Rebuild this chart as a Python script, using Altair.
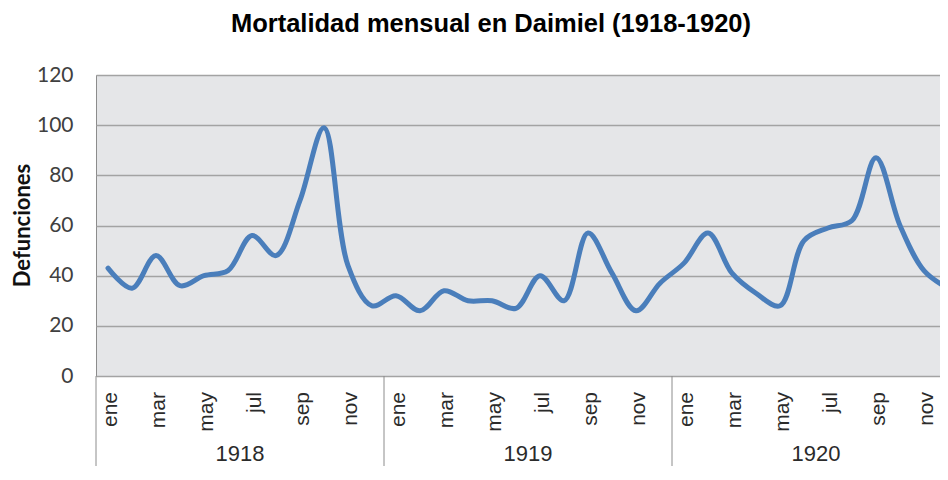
import altair as alt
import pandas as pd

# ---- data ----
years = ["1918", "1919", "1920"]
month_names = ["ene", "feb", "mar", "abr", "may", "jun", "jul", "ago", "sep", "oct", "nov", "dic"]
shown_months = ["ene", "mar", "may", "jul", "sep", "nov"]
deaths_1918 = [43, 35, 48, 36, 40, 42, 56, 48, 70, 99, 44, 28]
deaths_1919 = [32, 26, 34, 30, 30, 27, 40, 30, 57, 41, 26, 37]
deaths_1920 = [45, 57, 41, 33, 28, 54, 59, 62, 87, 60, 42, 35]
y_ticks = [0, 20, 40, 60, 80, 100, 120]
title_text = "Mortalidad mensual en Daimiel (1918-1920)"
y_title = "Defunciones"

rows = []
for yi, (yr, vals) in enumerate(zip(years, [deaths_1918, deaths_1919, deaths_1920])):
    for mi, v in enumerate(vals):
        rows.append({"pos": yi * 12 + mi + 0.5, "lab_pos": yi * 12 + mi + 0.62,
                     "year": yr, "month": month_names[mi], "deaths": v})
df = pd.DataFrame(rows)
labels_df = df[df["month"].isin(shown_months)]
year_df = pd.DataFrame({"pos": [6, 18, 30], "year": years})
sep_df = pd.DataFrame({"pos": [0, 12, 24]})
title_df = pd.DataFrame({"t": [title_text]})

W, H, TOP, BOTTOM, LEFT = 844, 301, 67, 90, 88
MONTH_PX = 24
GRID = "#a3a3a3"
EDGE = "#8c8c8c"
TXT = "#2b2b2b"

x_scale = alt.Scale(domain=[0, W / MONTH_PX], nice=False, zero=False)
y_scale = alt.Scale(domain=[0, 120], nice=False)

line = alt.Chart(df).mark_line(
    interpolate="catmull-rom", strokeWidth=5, color="#4a7ebb", strokeCap="round",
    strokeJoin="round", clip=True
).encode(
    x=alt.X("pos:Q", scale=x_scale,
            axis=alt.Axis(values=list(range(36)), labels=False, tickSize=62, tickColor=GRID,
                          tickWidth=1, domainColor=EDGE, domainWidth=1, grid=False, title=None)),
    y=alt.Y("deaths:Q", scale=y_scale,
            axis=alt.Axis(values=y_ticks, title=y_title, ticks=False, domain=False, labelPadding=23,
                          labelFontSize=21, labelFont="Lato", labelColor="#404040",
                          gridColor=GRID, gridWidth=1.5,
                          titleX=-74, titleY=150, titleAngle=270, titleAlign="center",
                          titleBaseline="middle", titleFont="Lato", titleFontSize=22,
                          titleFontWeight="bold", titleColor="#111111")),
)

month_text = alt.Chart(labels_df).mark_text(
    angle=270, align="right", baseline="middle", fontSize=21, font="Liberation Sans", color=TXT
).encode(
    x=alt.X("lab_pos:Q", scale=x_scale, axis=None),
    y=alt.value(H + 16),
    text="month:N",
)

year_text = alt.Chart(year_df).mark_text(
    baseline="middle", fontSize=22, font="Liberation Sans", color=TXT
).encode(
    x=alt.X("pos:Q", scale=x_scale, axis=None),
    y=alt.value(H + 78),
    text="year:N",
)

seps = alt.Chart(sep_df).mark_rule(color=EDGE, strokeWidth=1).encode(
    x=alt.X("pos:Q", scale=x_scale, axis=None),
    y=alt.value(H),
    y2=alt.value(H + BOTTOM),
)

title = alt.Chart(title_df).mark_text(
    fontSize=25.5, fontWeight="bold", font="Liberation Sans", color="#000000", baseline="middle"
).encode(
    x=alt.value(395),
    y=alt.value(-51),
    text="t:N",
)

chart = alt.layer(line, seps, month_text, year_text, title).properties(
    width=W, height=H,
    autosize=alt.AutoSizeParams(type="none"),
    padding={"left": LEFT, "top": TOP, "right": 0, "bottom": BOTTOM},
).configure_view(fill="#e5e6e8", stroke=EDGE, strokeWidth=1)

chart.save("out.html", embed_options={"renderer": "svg", "actions": False})
